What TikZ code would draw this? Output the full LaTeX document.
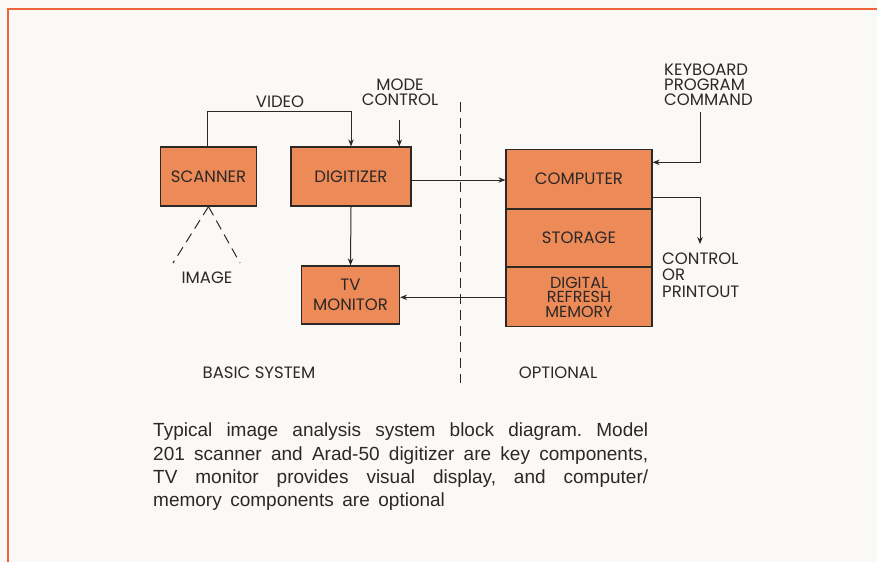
\documentclass[tikz,border=0pt]{standalone}
\usepackage{fontspec}
\setmainfont{Liberation Sans}
\newfontfamily\lblfont{Poppins}
\usetikzlibrary{arrows.meta}
\definecolor{boxfill}{RGB}{236,138,88}
\definecolor{frameor}{RGB}{240,100,60}
\definecolor{paper}{RGB}{250,249,245}
\definecolor{ink}{RGB}{45,40,38}
\tikzset{
  blk/.style={draw=ink, line width=1.2pt, fill=boxfill, inner sep=0pt, align=center, font=\lblfont\fontsize{16.5}{15}\selectfont, text=ink},
  lbl/.style={inner sep=0pt, align=center, font=\lblfont\fontsize{16.5}{15}\selectfont, text=ink},
  conn/.style={draw=ink, line width=1pt},
  arr/.style={conn, -{Stealth[length=7pt,width=5.5pt]}},
  dashln/.style={draw=ink, line width=1pt, dash pattern=on 10pt off 6pt}
}
\begin{document}
\begin{tikzpicture}[x=1pt,y=-1pt]
\useasboundingbox (0,0) rectangle (877,562);
\fill[paper] (0,0) rectangle (877,562);
\draw[frameor, line width=2.6pt] (8,562) -- (8,9) -- (877,9);
% blocks
\node[blk, minimum width=96pt, minimum height=59pt] (scan) at (208.5,176.5) {SCANNER};
\node[blk, minimum width=120pt, minimum height=59pt] (dig) at (351,176.5) {DIGITIZER};
\node[blk, minimum width=98pt, minimum height=58pt, font=\lblfont\fontsize{16.5}{20}\selectfont] (tv) at (350.5,295) {TV\\MONITOR};
\node[blk, minimum width=146pt, minimum height=60pt] (comp) at (579,179.2) {COMPUTER};
\node[blk, minimum width=146pt, minimum height=58pt] (stor) at (579,238) {STORAGE};
\node[blk, minimum width=146pt, minimum height=58.7pt, font=\lblfont\fontsize{16}{14.5}\selectfont] (mem) at (579,297) {DIGITAL\\REFRESH\\MEMORY};
% labels
\node[lbl] (video) at (280,102) {VIDEO};
\node[lbl] (mode) at (400,92) {MODE\\CONTROL};
\node[lbl, align=left, anchor=west] (kbd) at (664,85) {KEYBOARD\\PROGRAM\\COMMAND};
\node[lbl, align=left, anchor=west, font=\lblfont\fontsize{16.5}{16.5}\selectfont] (ctrl) at (662,275) {CONTROL\\OR\\PRINTOUT};
\node[lbl] (image) at (207,278) {IMAGE};
\node[lbl] (basic) at (259,373) {BASIC SYSTEM};
\node[lbl] (opt) at (558,373) {OPTIONAL};
% coordinates
\coordinate (modetop) at (399.3,120);
\coordinate (kbdtop) at (700,112);
\coordinate (ctrlend) at (700,244);
\coordinate (imgL) at (173,263);
\coordinate (imgR) at (240,263);
\coordinate (divtop) at (460,102);
\coordinate (divbot) at (460,383);
% connectors
\draw[arr] (scan.north) ++(-0.8,0) coordinate (vs) -- (vs |- 0,111) -| (dig.north);
\draw[arr] (modetop) -- (modetop |- dig.north);
\draw[arr] (dig.south) -- (tv.north);
\draw[arr] (dig.east |- 0,180) -- (comp.west |- 0,180);
\draw[arr] (mem.west |- 0,297.3) -- (tv.east |- 0,297.3);
\draw[arr] (kbdtop) |- (comp.east |- 0,162.3);
\draw[arr] (comp.east |- 0,197.7) -| (ctrlend);
\draw[dashln] (scan.south) -- (imgL);
\draw[dashln] (scan.south) -- (imgR);
\draw[dashln] (divtop) -- (divbot);
% caption
\node[anchor=north west, inner sep=0pt, text width=495pt, align=left, font=\fontsize{19}{23.3}\selectfont, text=ink] (cap) at (153,423)
{\spaceskip=0pt\xspaceskip=0pt\frenchspacing
\makebox[495pt][s]{Typical image analysis system block diagram. Model}\\
\makebox[495pt][s]{201 scanner and Arad-50 digitizer are key components,}\\
\makebox[495pt][s]{TV monitor provides visual display, and computer/}\\
{\spaceskip=0.45em memory components are optional}};
\end{tikzpicture}
\end{document}
